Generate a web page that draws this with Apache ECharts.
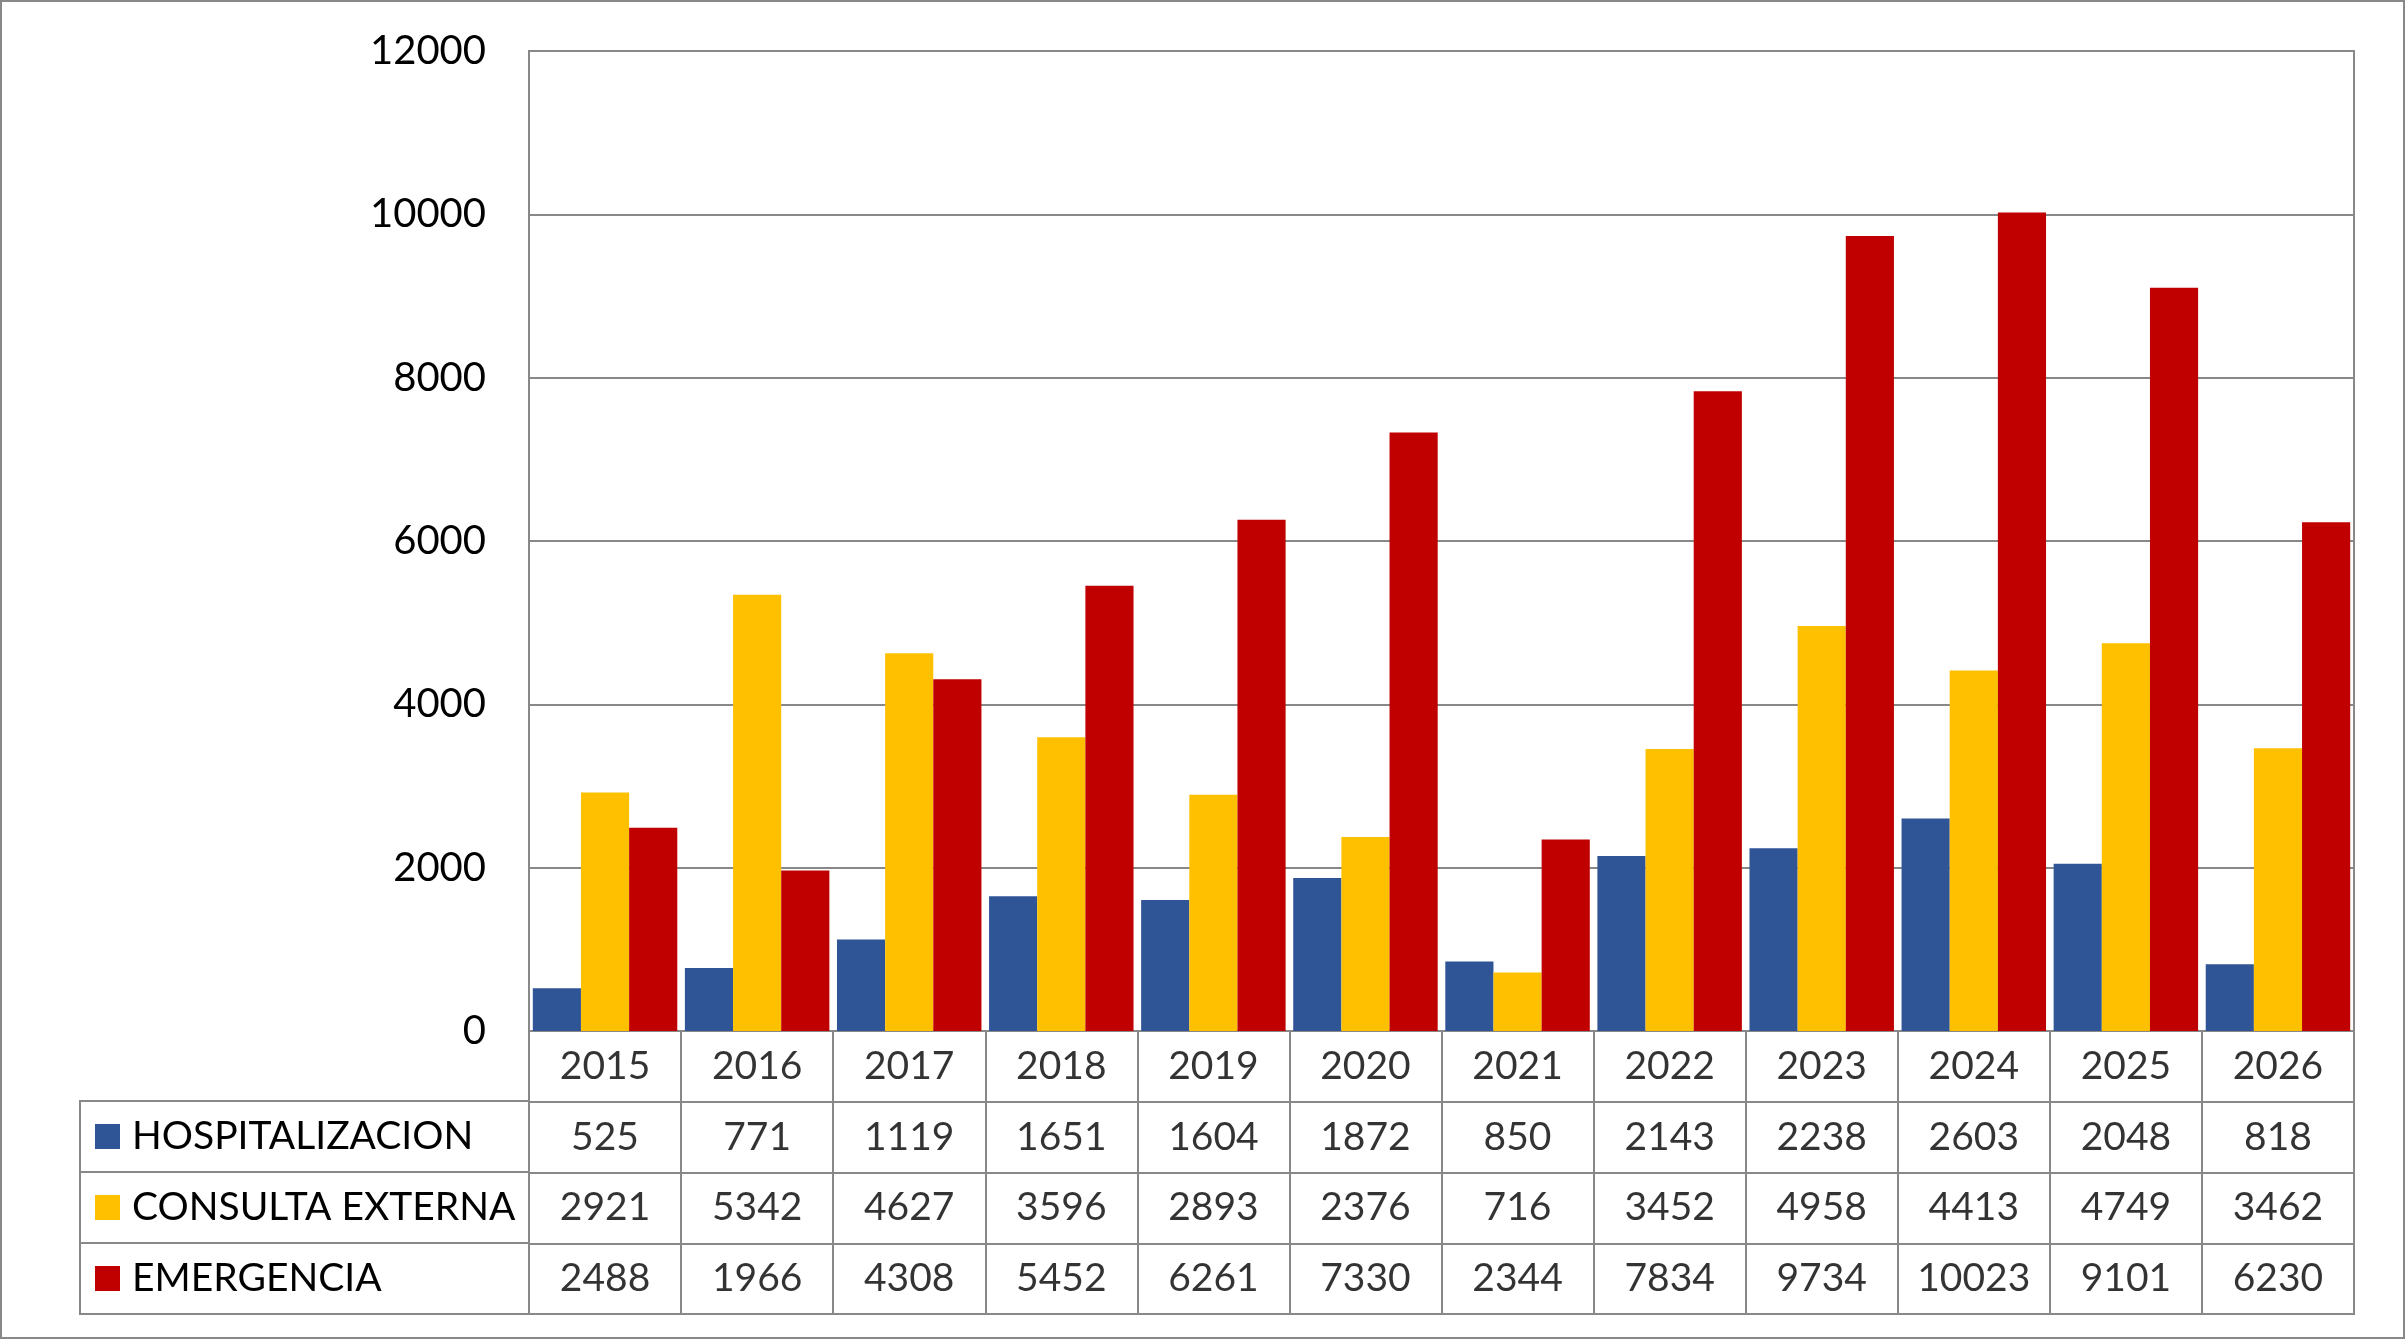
<!DOCTYPE html>
<html>
<head>
<meta charset="utf-8">
<script src="https://cdn.jsdelivr.net/npm/echarts@6/dist/echarts.min.js"></script>
<style>
  html, body { margin: 0; padding: 0; background: #fff; }
  #chart { position: absolute; left: 0; top: 0; width: 2406px; height: 1339px; }
  #frame { position: absolute; left: 0; top: 0; width: 2405px; height: 1339px; box-sizing: border-box; border: 2px solid #888; pointer-events: none; }
</style>
</head>
<body>
<div id="chart"></div>
<div id="frame"></div>
<script>
const years = ['2015', '2016', '2017', '2018', '2019', '2020', '2021', '2022', '2023', '2024', '2025', '2026'];
const hospitalizacion = [525, 771, 1119, 1651, 1604, 1872, 850, 2143, 2238, 2603, 2048, 818];
const consultaExterna = [2921, 5342, 4627, 3596, 2893, 2376, 716, 3452, 4958, 4413, 4749, 3462];
const emergencia = [2488, 1966, 4308, 5452, 6261, 7330, 2344, 7834, 9734, 10023, 9101, 6230];
const seriesNames = ['HOSPITALIZACION', 'CONSULTA EXTERNA', 'EMERGENCIA'];
const seriesColors = ['#2F5597', '#FFC000', '#C00000'];

const FONT = 'Lato, "Open Sans", sans-serif';
const LINE = '#888888';

const seriesValues = [hospitalizacion, consultaExterna, emergencia];

// table cells: row 0 = years, rows 1..3 = series values
const tableRows = ['year'].concat(seriesNames);
const cellData = [];
years.forEach(function (y, i) {
  cellData.push([i, 0, y]);
  seriesValues.forEach(function (vals, r) {
    cellData.push([i, r + 1, String(vals[i])]);
  });
});

const chart = echarts.init(document.getElementById('chart'));

const barSeries = seriesNames.map(function (name, k) {
  return {
    name: name,
    type: 'bar',
    xAxisIndex: 0,
    yAxisIndex: 0,
    data: seriesValues[k],
    barGap: '0%',
    barCategoryGap: '5%',
    itemStyle: { color: seriesColors[k] }
  };
});

const richKeys = { t: { fontFamily: FONT, fontSize: 39, color: '#000', padding: [0, 0, 0, 12] } };
seriesColors.forEach(function (c, k) {
  richKeys['k' + k] = { width: 25, height: 25, backgroundColor: c };
});

const option = {
  animation: false,
  backgroundColor: '#fff',
  grid: [
    { left: 529, right: 52, top: 51, height: 980, show: true, borderColor: LINE, borderWidth: 2 },
    { left: 529, right: 52, top: 1031, height: 283, show: true, borderColor: LINE, borderWidth: 2 },
    { left: 80, width: 449, top: 1101, height: 213, show: true, borderColor: LINE, borderWidth: 2 }
  ],
  xAxis: [
    {
      gridIndex: 0, type: 'category', data: years,
      axisLine: { show: true, lineStyle: { color: LINE, width: 2 } },
      axisTick: { show: false }, axisLabel: { show: false }, splitLine: { show: false }
    },
    {
      gridIndex: 1, type: 'category', data: years,
      axisLine: { show: false }, axisTick: { show: false }, axisLabel: { show: false },
      splitLine: { show: true, interval: 0, lineStyle: { color: LINE, width: 2 } }
    },
    {
      gridIndex: 2, type: 'value', min: 0, max: 1, show: false
    }
  ],
  yAxis: [
    {
      gridIndex: 0, type: 'value', min: 0, max: 12000, interval: 2000,
      axisLine: { show: true, lineStyle: { color: LINE, width: 2 } },
      axisTick: { show: false },
      axisLabel: {
        fontFamily: FONT, fontSize: 40, color: '#000', margin: 43,
        formatter: function (v) { return String(v); }
      },
      splitLine: { show: true, lineStyle: { color: LINE, width: 2 } }
    },
    {
      gridIndex: 1, type: 'category', data: tableRows, inverse: true,
      axisLine: { show: false }, axisTick: { show: false }, axisLabel: { show: false },
      splitLine: { show: true, interval: 0, lineStyle: { color: LINE, width: 2 } }
    },
    {
      gridIndex: 2, type: 'category', data: seriesNames, inverse: true,
      axisLine: { show: false }, axisTick: { show: false },
      splitLine: { show: true, interval: 0, lineStyle: { color: LINE, width: 2 } },
      axisLabel: {
        inside: true, margin: 15, interval: 0,
        formatter: function (v, i) { return '{k' + i + '|}{t|' + v + '}'; },
        rich: richKeys
      }
    }
  ],
  series: barSeries.concat([
    {
      type: 'scatter',
      xAxisIndex: 1,
      yAxisIndex: 1,
      data: cellData,
      symbolSize: 1,
      itemStyle: { color: 'rgba(0,0,0,0)' },
      label: {
        show: true, position: 'inside',
        fontFamily: FONT, fontSize: 39, color: '#000',
        formatter: function (p) { return p.value[2]; }
      },
      silent: true
    }
  ])
};

chart.setOption(option);
</script>
</body>
</html>
